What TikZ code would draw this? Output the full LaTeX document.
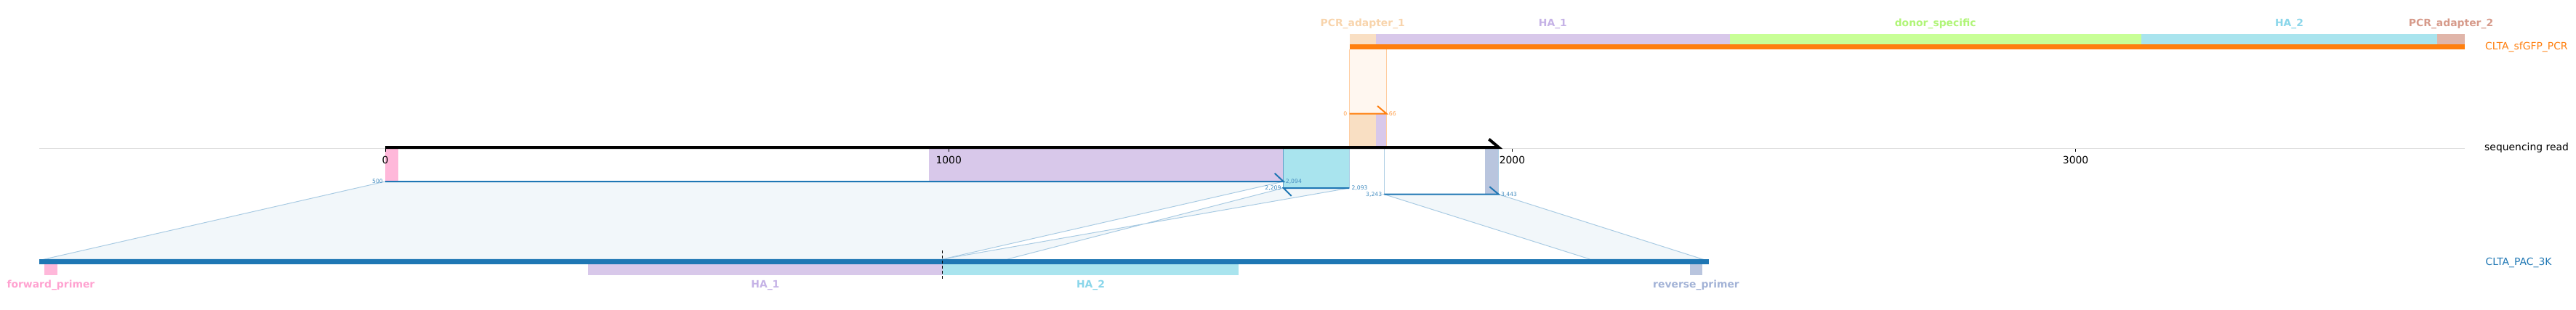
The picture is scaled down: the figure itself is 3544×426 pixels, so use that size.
\documentclass[tikz,border=0pt]{standalone}
\usepackage{fontspec}
\setmainfont{DejaVu Sans}
\definecolor{tblue}{HTML}{1F77B4}
\definecolor{torange}{HTML}{FF7F0E}
\definecolor{adapA}{HTML}{F9DFC3}\definecolor{adapAL}{HTML}{F8D4AC}
\definecolor{armA}{HTML}{D8C8EA}\definecolor{armAL}{HTML}{C5B2E6}
\definecolor{donor}{HTML}{C8FF96}\definecolor{donorL}{HTML}{B0F577}
\definecolor{armB}{HTML}{A9E4EE}\definecolor{armBL}{HTML}{8AD6EA}
\definecolor{adapB}{HTML}{E0B5A9}\definecolor{adapBL}{HTML}{D69A8A}
\definecolor{fwd}{HTML}{FFB8DA}\definecolor{fwdL}{HTML}{FFA2D0}
\definecolor{rev}{HTML}{B9C5DE}\definecolor{revL}{HTML}{A2B2D6}
\definecolor{band}{HTML}{F2F7FA}
\definecolor{bandedge}{HTML}{A9CBE3}
\newcommand\axfont{\fontsize{13.9}{16}\selectfont}
\newcommand\smfont{\fontsize{7.7}{9}\selectfont}
\newcommand\ftfont{\fontsize{13.9}{16}\selectfont\bfseries}
\begin{document}
\begin{tikzpicture}[x=1pt, y=-1pt, font=\axfont,
	declare function={rd(\p)=530+0.7752*\p; rf(\p)=-326.6+0.7752*\p; pc(\p)=1856.5+0.7752*\p;},
	lab/.style={font=\ftfont, anchor=base, inner sep=0pt},
	trk/.style={anchor=base west, inner sep=0pt},
	bplab/.style={font=\smfont, text=tblue!85, inner sep=0pt},
	seg/.style={tblue, line width=2pt},
	link/.style={fill=band, draw=bandedge, line width=1pt}]
	\useasboundingbox (0,0) rectangle (3544,426);
	\path ({rd(0)},250) coordinate (s1a) ({rd(1594)},250) coordinate (s1b)
		({rd(1594)},259) coordinate (s2a) ({rd(1711)},259) coordinate (s2b)
		({rd(1773)},267.7) coordinate (s3a) ({rd(1976)},267.7) coordinate (s3b)
		({rf(500)},357) coordinate (g1a) ({rf(2094)},357) coordinate (g1b)
		({rf(2209)},357) coordinate (g2a) ({rf(2093)},357) coordinate (g2b)
		({rf(3243)},357) coordinate (g3a) ({rf(3443)},357) coordinate (g3b)
		({pc(0)},156.7) coordinate (o0) ({pc(66)},156.7) coordinate (o66)
		({rd(0)},203) coordinate (r0) ({rd(1976)},203) coordinate (r1);
	\foreach \a/\b/\col/\t in {0/47/adapA/PCR\_adapter\_1, 47/675/armA/HA\_1, 675/1405/donor/donor\_specific, 1405/1931/armB/HA\_2, 1931/1979/adapB/PCR\_adapter\_2}{
		\fill[\col] ({pc(\a)},47) rectangle ({pc(\b)},61.3);
		\node[lab, text=\col L] (top\a) at ({(pc(\a)+pc(\b))/2},36.8) {\t};
	}
	\fill[torange] ({pc(0)},61.3) rectangle ({pc(1979)},68);
	\node[trk, text=torange] (pcr) at (3419,68.5) {CLTA\_sfGFP\_PCR};
	\fill[torange!6] ({pc(0)},68) rectangle ({pc(66)},203);
	\fill[adapA] ({pc(0)},156.7) rectangle ({pc(47)},203);
	\fill[armA] ({pc(47)},156.7) rectangle ({pc(66)},203);
	\draw[torange!40, line width=.6pt] ({pc(0)},68) -- ({pc(0)},203) ({pc(66)},68) -- ({pc(66)},203);
	\draw[torange, line width=2pt] (o0) -- (o66) -- ++(-12.6,-10.7);
	\node[bplab, text=torange!75, anchor=east] (o0l) at ([xshift=-3pt]o0) {0};
	\node[bplab, text=torange!75, anchor=west] (o66l) at ([xshift=3pt]o66) {66};
	\draw[black!13, line width=1pt] (54,204) -- (3391,204);
	\node[trk] (seq) at (3418,207.5) {sequencing read};
	\foreach \a/\b/\y/\col in {0/23/250/fwd, 965/1594/250/armA, 1594/1711/259/armB, 1952/1976/267.7/rev}{
		\fill[\col] ({rd(\a)},204.5) rectangle ({rd(\b)},\y);
	}
	\filldraw[link] (s1a) -- (s1b) -- (g1b) -- (g1a) -- cycle;
	\filldraw[link] (s2a) -- (s2b) -- (g2b) -- (g2a) -- cycle;
	\filldraw[link] (s3a) -- (s3b) -- (g3b) -- (g3a) -- cycle;
	\foreach \p in {s1b, s2b, s3a, s3b}{
		\draw[bandedge, line width=.8pt] (\p |- r0) -- (\p);
	}
	\draw[tblue!70, line width=.8pt] (s1b |- r0) -- (s2a);
	\draw[line width=4pt] (r0) -- (r1) -- ++(-13.4,-11.3);
	\foreach \t in {0,1000,2000,3000}{
		\draw[line width=.8pt] ({rd(\t)},205) -- ++(0,4.3);
		\node[anchor=base, inner sep=0pt] (tick\t) at ({rd(\t)},225.2) {\t};
	}
	\draw[seg] (s1a) -- (s1b) -- ++(-12,-11.3);
	\draw[seg] (s2b) -- (s2a) -- ++(11,11);
	\draw[seg] (s3a) -- (s3b) -- ++(-12.5,-10.5);
	\foreach \p/\q/\l/\m in {s1a/s1b/{500}/{2,094}, s2a/s2b/{2,209}/{2,093}, s3a/s3b/{3,243}/{3,443}}{
		\node[bplab, anchor=east] (\p l) at ([xshift=-3pt]\p) {\l};
		\node[bplab, anchor=west] (\q l) at ([xshift=3pt]\q) {\m};
	}
	\fill[tblue] (54,357) rectangle (2351,364);
	\node[trk, text=tblue] (pac) at (3419.5,365.2) {CLTA\_PAC\_3K};
	\foreach \a/\b/\col/\t in {500/523/fwd/forward\_primer, 1465/2094/armA/HA\_1, 2094/2620/armB/HA\_2, 3420/3443/rev/reverse\_primer}{
		\fill[\col] ({rf(\a)},364) rectangle ({rf(\b)},379);
		\node[lab, text=\col L] (bot\a) at ({(rf(\a)+rf(\b))/2},396.8) {\t};
	}
	\draw[line width=.8pt, dash pattern=on 4pt off 3pt] ({rf(2094)},345) -- ({rf(2094)},384);
\end{tikzpicture}
\end{document}
